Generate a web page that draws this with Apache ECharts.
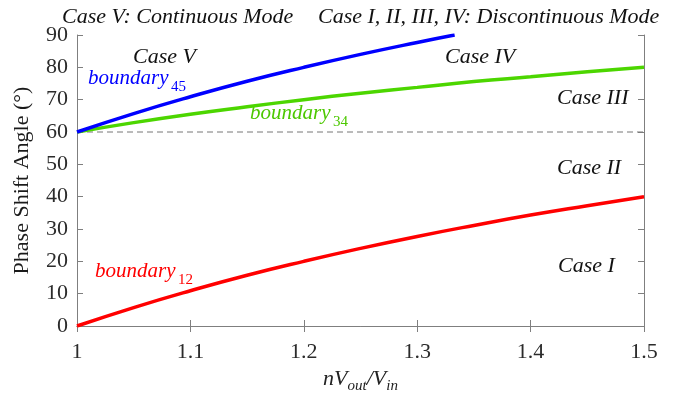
<!DOCTYPE html>
<html><head><meta charset="utf-8">
<script src="https://cdn.jsdelivr.net/npm/echarts@6/dist/echarts.min.js"></script>
<style>html,body{margin:0;padding:0;background:#fff}#c{width:682px;height:399px}</style>
</head><body><div id="c"></div>
<script>
var xTicks = [1, 1.1, 1.2, 1.3, 1.4, 1.5];
var yTicks = [0, 10, 20, 30, 40, 50, 60, 70, 80, 90];
var ratio = [1, 1.05, 1.1, 1.15, 1.2, 1.25, 1.3, 1.35, 1.4, 1.45, 1.5];
var boundary12 = [0, 5.7, 10.9, 15.7, 20, 24, 27.7, 31.1, 34.3, 37.2, 40];
var boundary34 = [60, 62.9, 65.5, 67.8, 70, 72, 73.8, 75.6, 77.1, 78.6, 80];
var ratio45 = [1, 1.05, 1.1, 1.15, 1.2, 1.25, 1.3, 1.333];
var boundary45 = [60, 65.7, 70.9, 75.7, 80, 84, 87.7, 90];
var dashedLevel = 60;

var FONT = '"Liberation Serif", "DejaVu Serif", serif';
var AX = '#7f7f7f';
function pairs(xs, ys){ return xs.map(function(x,i){ return [x, ys[i]]; }); }

var chart = echarts.init(document.getElementById('c'));
var axCommon = {
  axisLine: {show: true, lineStyle: {color: AX, width: 1}},
  axisTick: {show: true, inside: true, length: 6, lineStyle: {color: AX}},
  splitLine: {show: false}
};
var IT = 'italic 22px ' + FONT;
chart.setOption({
  animation: false,
  grid: {left: 77, right: 38, top: 35, bottom: 73, containLabel: false},
  xAxis: [
    Object.assign({type: 'value', min: 1, max: 1.5, interval: 0.1, position: 'bottom',
      name: '{i|nV}{s|out}{i|/V}{s|in}', nameLocation: 'middle', nameGap: 37,
      nameTextStyle: {rich: {
        i: {fontFamily: FONT, fontStyle: 'italic', fontSize: 22, color: '#222'},
        s: {fontFamily: FONT, fontStyle: 'italic', fontSize: 15, color: '#222', padding: [14,0,0,0]}
      }},
      axisLabel: {fontFamily: FONT, fontSize: 22, color: '#2b2b2b', margin: 15,
        formatter: function(v){ return String(Math.round(v*10)/10); }}
    }, axCommon),
    Object.assign({type: 'value', min: 1, max: 1.5, interval: 0.1, position: 'top',
      axisLabel: {show: false}}, axCommon)
  ],
  yAxis: [
    Object.assign({type: 'value', min: 0, max: 90, interval: 10, position: 'left',
      name: 'Phase Shift Angle (°)', nameLocation: 'middle', nameGap: 44,
      nameTextStyle: {fontFamily: FONT, fontSize: 22, color: '#1a1a1a'},
      axisLabel: {fontFamily: FONT, fontSize: 22, color: '#2b2b2b', margin: 9}
    }, axCommon),
    Object.assign({type: 'value', min: 0, max: 90, interval: 10, position: 'right',
      axisLabel: {show: false}}, axCommon)
  ],
  series: [
    {type: 'line', data: [[1, dashedLevel], [1.5, dashedLevel]], symbol: 'none',
      lineStyle: {color: '#777', width: 1, type: [6, 4]}, z: 1},
    {type: 'line', data: pairs(ratio, boundary12), smooth: true, symbol: 'none',
      lineStyle: {color: '#ff0000', width: 3.5}},
    {type: 'line', data: pairs(ratio, boundary34), smooth: true, symbol: 'none',
      lineStyle: {color: '#4cd600', width: 3.5}},
    {type: 'line', data: pairs(ratio45, boundary45), smooth: true, symbol: 'none',
      lineStyle: {color: '#0000ff', width: 3.5}}
  ],
  graphic: [
    {type: 'text', left: 62, top: 6, style: {text: 'Case V: Continuous Mode', font: IT, fill: '#111'}},
    {type: 'text', left: 318, top: 6, style: {text: 'Case I, II, III, IV: Discontinuous Mode', font: IT, fill: '#111'}},
    {type: 'text', left: 133, top: 46, style: {text: 'Case V', font: IT, fill: '#111'}},
    {type: 'text', left: 445, top: 46, style: {text: 'Case IV', font: IT, fill: '#111'}},
    {type: 'text', left: 557, top: 87, style: {text: 'Case III', font: IT, fill: '#111'}},
    {type: 'text', left: 557, top: 157, style: {text: 'Case II', font: IT, fill: '#111'}},
    {type: 'text', left: 558, top: 255, style: {text: 'Case I', font: IT, fill: '#111'}},
    {type: 'text', left: 88, top: 68, style: {text: 'boundary', font: 'italic 21px ' + FONT, fill: '#0000ff'}},
    {type: 'text', left: 171, top: 80, style: {text: '45', font: '15px ' + FONT, fill: '#0000ff'}},
    {type: 'text', left: 250, top: 103, style: {text: 'boundary', font: 'italic 21px ' + FONT, fill: '#4cc800'}},
    {type: 'text', left: 333, top: 115, style: {text: '34', font: '15px ' + FONT, fill: '#4cc800'}},
    {type: 'text', left: 95, top: 261, style: {text: 'boundary', font: 'italic 21px ' + FONT, fill: '#ff0000'}},
    {type: 'text', left: 178, top: 273, style: {text: '12', font: '15px ' + FONT, fill: '#ff0000'}}
  ]
});
</script></body></html>
